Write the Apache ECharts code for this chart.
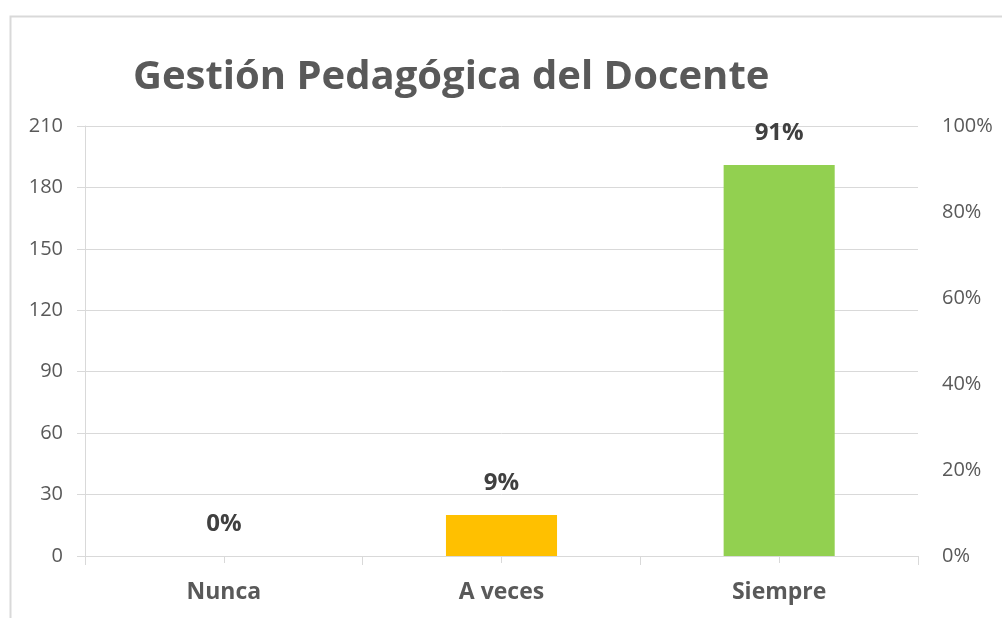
<!DOCTYPE html>
<html>
<head>
<meta charset="utf-8">
<script src="https://cdn.jsdelivr.net/npm/echarts@6/dist/echarts.min.js"></script>
<style>
  html, body { margin: 0; padding: 0; background: #fff; }
  #chart { width: 1002px; height: 618px; }
</style>
</head>
<body>
<div id="chart"></div>
<script>
// datos del gráfico
const categories = ['Nunca', 'A veces', 'Siempre']
const counts = [0, 20, 191]
const percentLabels = ['0%', '9%', '91%']
const barColors = ['#5B9BD5', '#FFC000', '#92D050']

const FONT = '"Open Sans", sans-serif'
const GRID_COLOR = '#d9d9d9'
const TEXT_COLOR = '#595959'

const chart = echarts.init(document.getElementById('chart'))

chart.setOption({
    animation: false,
    textStyle: { fontFamily: FONT },
    graphic: [{
        type: 'rect',
        left: 8,
        top: 14,
        shape: { width: 1010, height: 620 },
        style: { fill: 'none', stroke: GRID_COLOR, lineWidth: 2 },
        silent: true
    }],
    title: {
        text: 'Gestión Pedagógica del Docente',
        left: 128,
        top: 53,
        textStyle: {
            fontFamily: FONT,
            fontSize: 40,
            fontWeight: 'bold',
            color: TEXT_COLOR
        }
    },
    grid: {
        left: 85,
        right: 84,
        top: 126,
        bottom: 62
    },
    xAxis: [{
        type: 'category',
        data: categories,
        axisLine: { lineStyle: { color: GRID_COLOR, width: 1 } },
        axisTick: {
            show: true,
            length: 9,
            alignWithLabel: false,
            lineStyle: { color: GRID_COLOR }
        },
        axisLabel: {
            margin: 25,
            fontFamily: FONT,
            fontSize: 23,
            fontWeight: 'bold',
            color: TEXT_COLOR
        }
    }, {
        // marcas en el centro de cada categoría
        type: 'category',
        data: categories,
        position: 'bottom',
        axisLine: { show: false },
        axisLabel: { show: false },
        axisTick: {
            show: true,
            length: 7,
            alignWithLabel: true,
            lineStyle: { color: GRID_COLOR }
        }
    }],
    yAxis: [{
        type: 'value',
        min: 0,
        max: 210,
        interval: 30,
        axisLine: { show: true, lineStyle: { color: GRID_COLOR } },
        axisTick: { show: true, length: 8, lineStyle: { color: GRID_COLOR } },
        axisLabel: {
            margin: 22,
            fontFamily: FONT,
            fontSize: 20,
            color: TEXT_COLOR
        },
        splitLine: { lineStyle: { color: GRID_COLOR, width: 1 } }
    }, {
        type: 'value',
        min: 0,
        max: 1,
        interval: 0.2,
        position: 'right',
        axisLine: { show: false },
        axisTick: { show: false },
        splitLine: { show: false },
        axisLabel: {
            margin: 24,
            fontFamily: FONT,
            fontSize: 20,
            color: TEXT_COLOR,
            formatter: (v) => Math.round(v * 100) + '%'
        }
    }],
    series: [{
        type: 'bar',
        xAxisIndex: 0,
        yAxisIndex: 0,
        barWidth: '40%',
        data: counts.map((v, i) => ({
            value: v,
            itemStyle: { color: barColors[i] }
        })),
        label: {
            show: true,
            position: 'top',
            distance: 20,
            fontFamily: FONT,
            fontSize: 24,
            fontWeight: 'bold',
            color: '#404040',
            formatter: (p) => percentLabels[p.dataIndex]
        }
    }]
})
</script>
</body>
</html>
